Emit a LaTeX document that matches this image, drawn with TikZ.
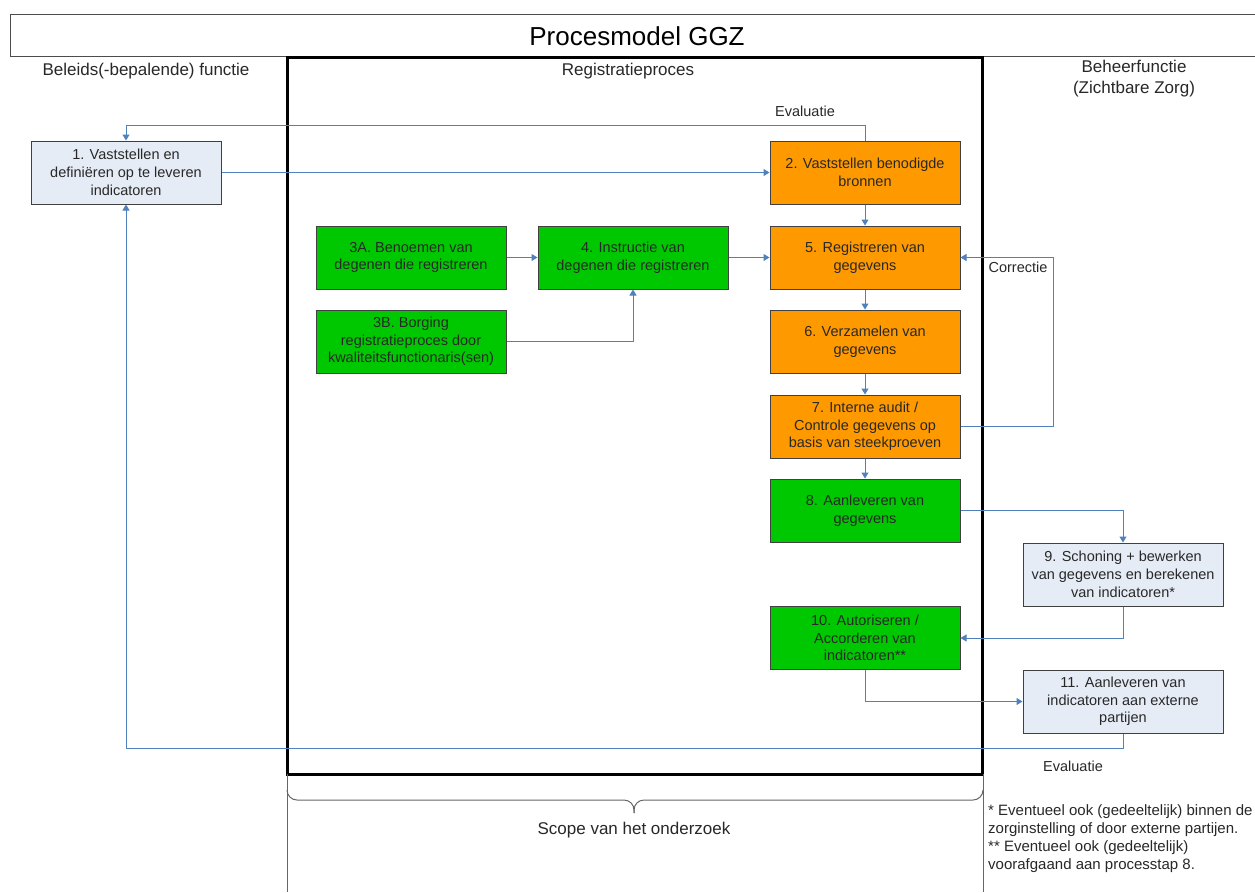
\documentclass[tikz,border=0pt]{standalone}
\usepackage{fontspec}
\setmainfont{Liberation Sans}
\usetikzlibrary{arrows.meta}
\definecolor{arrblue}{RGB}{79,129,189}
\definecolor{orangebox}{RGB}{255,153,0}
\definecolor{greenbox}{RGB}{0,200,0}
\definecolor{bluebox}{RGB}{230,236,246}
\definecolor{txt}{RGB}{40,40,40}
\tikzset{
  stepbox/.style={draw=black!75, line width=1pt, minimum width=190pt, minimum height=63pt, inner sep=0pt, align=center, text=txt, font=\fontsize{14.5}{17.7}\selectfont},
  orangestep/.style={stepbox, fill=orangebox},
  greenstep/.style={stepbox, fill=greenbox},
  bluestep/.style={stepbox, fill=bluebox},
  widestep/.style={bluestep, minimum width=200pt},
  arr/.style={draw=arrblue, line width=1pt, -{Triangle[width=7pt,length=6pt]}},
  lbl/.style={text=txt, font=\fontsize{14.5}{17.7}\selectfont, inner sep=0pt, align=center},
  head/.style={text=txt, font=\fontsize{17}{21}\selectfont, inner sep=0pt, align=center}
}
\begin{document}
\begin{tikzpicture}[x=1pt, y=-1pt]
\useasboundingbox (0,0) rectangle (1255,892);
\fill[white] (0,0) rectangle (1255,892);
% title frame
\draw[black!70, line width=1pt] (1256,14) -- (10,14) -- (10,56) -- (1256,56);
\node[text=black, font=\fontsize{26}{30}\selectfont, inner sep=0pt] (title) at (637,36) {Procesmodel GGZ};
% scope frame
\draw[black, line width=3pt] (287,57) rectangle (982,774);
\draw[black!60, line width=1pt] (287,774) -- (287,892);
\draw[black!60, line width=1pt] (983,774) -- (983,892);
\draw[black!60, line width=1pt] (287,790) arc[start angle=180, end angle=90, radius=10] -- (624,800) arc[start angle=-90, end angle=0, radius=10] -- (634,813);
\draw[black!60, line width=1pt] (983,790) arc[start angle=0, end angle=90, radius=10] -- (644,800) arc[start angle=270, end angle=180, radius=10] -- (634,813);
% headings
\node[head] (hleft) at (146,71) {Beleids(-bepalende) functie};
\node[head] (hmid) at (628,71) {Registratieproces};
\node[head] (hright) at (1134,79) {Beheerfunctie\\(Zichtbare Zorg)};
\node[head] (scope) at (634,830) {Scope van het onderzoek};
% boxes
\node[bluestep] (b1) at (126,172.5) {1. Vaststellen en\\definiëren op te leveren\\indicatoren};
\node[orangestep] (b2) at (865,172.5) {2. Vaststellen benodigde\\bronnen};
\node[greenstep] (b3a) at (411,257.5) {3A. Benoemen van\\degenen die registreren};
\node[greenstep] (b4) at (633,257.5) {4. Instructie van\\degenen die registreren};
\node[greenstep] (b3b) at (411,341.5) {3B. Borging\\registratieproces door\\kwaliteitsfunctionaris(sen)};
\node[orangestep] (b5) at (865,257.5) {5. Registreren van\\gegevens};
\node[orangestep] (b6) at (865,341.5) {6. Verzamelen van\\gegevens};
\node[orangestep] (b7) at (865,426.5) {7. Interne audit /\\Controle gegevens op\\basis van steekproeven};
\node[greenstep] (b8) at (865,510.5) {8. Aanleveren van\\gegevens};
\node[widestep] (b9) at (1123,574.5) {9. Schoning + bewerken\\van gegevens en berekenen\\van indicatoren*};
\node[greenstep] (b10) at (865,638) {10. Autoriseren /\\Accorderen van\\indicatoren**};
\node[widestep] (b11) at (1123,701.5) {11. Aanleveren van\\indicatoren aan externe\\partijen};
% labels
\node[lbl] (evaltop) at (805,111) {Evaluatie};
\node[lbl] (corr) at (1018,267) {Correctie};
\node[lbl] (evalbot) at (1073,766) {Evaluatie};
\node[text=txt, font=\fontsize{15}{18}\selectfont, inner sep=0pt, align=left, anchor=north west] (notes) at (988,804) {* Eventueel ook (gedeeltelijk) binnen de\\zorginstelling of door externe partijen.\\** Eventueel ook (gedeeltelijk)\\voorafgaand aan processtap 8.};
% connectors
\draw[arr] (b2.north) -- ++(0,-15) -| (b1.north);
\draw[arr] (b1.east) -- (b2.west);
\draw[arr] (b2.south) -- (b5.north);
\draw[arr] (b3a.east) -- (b4.west);
\draw[arr] (b4.east) -- (b5.west);
\draw[arr] (b3b.east) -| (b4.south);
\draw[arr] (b5.south) -- (b6.north);
\draw[arr] (b6.south) -- (b7.north);
\draw[arr] (b7.south) -- (b8.north);
\draw[arr] (b7.east) -- ++(93,0) |- (b5.east);
\draw[arr] (b8.east) -| (b9.north);
\draw[arr] (b9.south) |- (b10.east);
\draw[arr] (b10.south) |- (b11.west);
\draw[arr] (b11.south) -- ++(0,15) -| (b1.south);
\end{tikzpicture}
\end{document}
